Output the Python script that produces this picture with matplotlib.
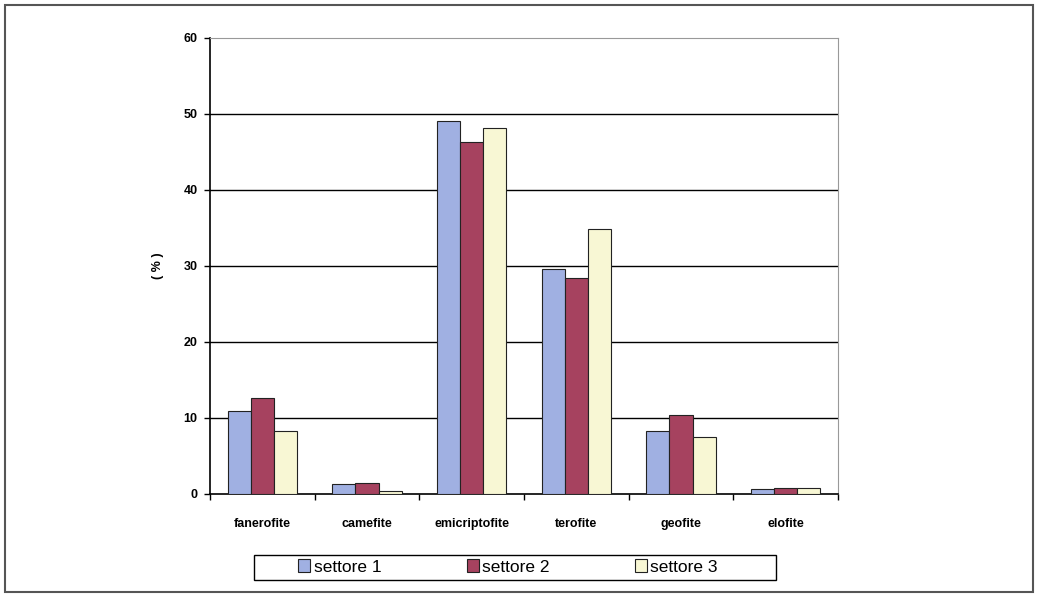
import matplotlib.pyplot as plt
import numpy as np
from matplotlib.patches import Rectangle

plt.rcParams["font.family"] = ["Liberation Sans", "DejaVu Sans"]

categories = ["fanerofite", "camefite", "emicriptofite", "terofite", "geofite", "elofite"]
series_names = ["settore 1", "settore 2", "settore 3"]
settore_1 = [10.9, 1.3, 49.1, 29.6, 8.3, 0.7]
settore_2 = [12.6, 1.4, 46.3, 28.4, 10.4, 0.8]
settore_3 = [8.3, 0.4, 48.2, 34.9, 7.5, 0.8]
yticks = [0, 10, 20, 30, 40, 50, 60]

colors = ["#A0B0E2", "#A6425F", "#F8F7D4"]

fig = plt.figure(figsize=(10.37, 5.96), dpi=100)
fig.patch.set_facecolor("white")

# outer frame of the scanned page
fig.add_artist(Rectangle((5 / 1037, 4 / 596), 1028 / 1037, 587 / 596,
                         transform=fig.transFigure, fill=False,
                         edgecolor="#555555", linewidth=1.5))

ax = fig.add_axes([210 / 1037, 102 / 596, 628 / 1037, 456 / 596])

x = np.arange(len(categories))
w = 0.22
for i, vals in enumerate([settore_1, settore_2, settore_3]):
    ax.bar(x + (i - 1) * w, vals, width=w, color=colors[i],
           edgecolor="#222222", linewidth=0.8, label=series_names[i], zorder=3)

ax.set_xlim(-0.5, len(categories) - 0.5)
ax.set_ylim(0, 60)
ax.set_yticks(yticks)
ax.set_yticklabels([str(t) for t in yticks], fontsize=9, fontweight="bold")
for t in yticks[1:-1]:
    ax.axhline(t, color="black", linewidth=1.0, zorder=1)

ax.set_xticks(x)
ax.set_xticklabels(categories, fontsize=9, fontweight="bold")
ax.tick_params(axis="x", length=0, pad=17)
ax.set_xticks(np.arange(len(categories) + 1) - 0.5, minor=True)
ax.tick_params(axis="x", which="minor", length=4, direction="out", width=1)
ax.tick_params(axis="y", length=4, direction="out", width=1, pad=5)

for side in ["top", "right"]:
    ax.spines[side].set_color("#999999")
for side in ["left", "bottom"]:
    ax.spines[side].set_color("black")
    ax.spines[side].set_linewidth(1.2)

ax.set_ylabel("( % )", fontsize=9, fontweight="bold", labelpad=14)

# legend box drawn separately so the entries can sit inside with wide margins
fig.add_artist(Rectangle((254 / 1037, 1 - 580 / 596), 522 / 1037, 25 / 596,
                         transform=fig.transFigure, fill=False,
                         edgecolor="black", linewidth=1.0))
fig.legend(loc="center", bbox_to_anchor=(508 / 1037, 1 - 567 / 596),
           ncol=3, fontsize=12.5, frameon=False,
           handlelength=0.7, handleheight=0.7,
           handletextpad=0.2, columnspacing=4.9, borderpad=0.3,
           borderaxespad=0)

fig.savefig("out.png", dpi=100)
